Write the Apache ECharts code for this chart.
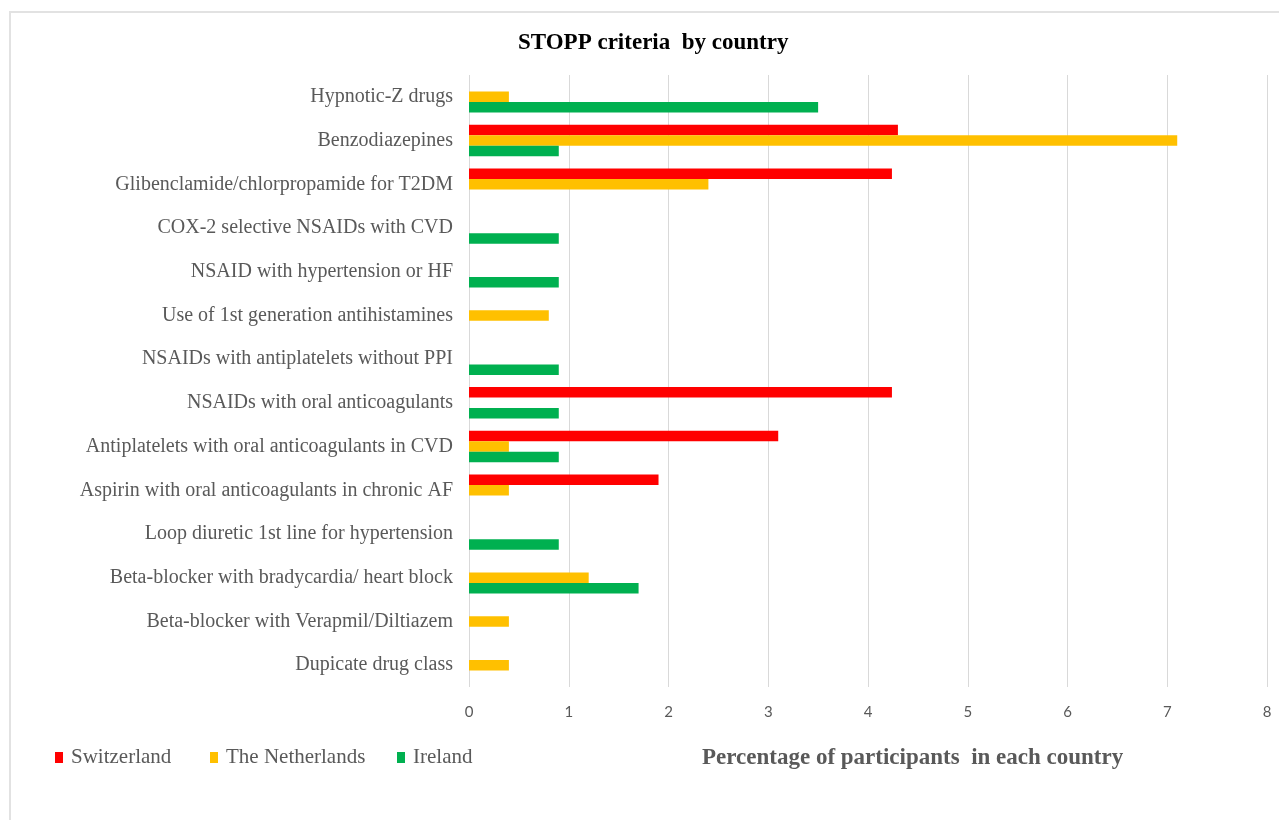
<!DOCTYPE html>
<html>
<head>
<meta charset="utf-8">
<title>STOPP criteria by country</title>
<script src="https://cdn.jsdelivr.net/npm/echarts@6/dist/echarts.min.js"></script>
<style>
  html, body { margin: 0; padding: 0; background: #fff; }
  #frame { position: absolute; left: 9px; top: 11px; width: 1280px; height: 820px;
           border-left: 2px solid #e2e2e2; border-top: 2px solid #e2e2e2; }
  #main { position: absolute; left: 0; top: 0; width: 1279px; height: 820px; }
</style>
</head>
<body>
<div id="frame"></div>
<div id="main"></div>
<script>
// 类目（从上到下）
const criteria = [
  'Hypnotic-Z drugs',
  'Benzodiazepines',
  'Glibenclamide/chlorpropamide for T2DM',
  'COX-2 selective NSAIDs with CVD',
  'NSAID with hypertension or HF',
  'Use of 1st generation antihistamines',
  'NSAIDs with antiplatelets without PPI',
  'NSAIDs with oral anticoagulants',
  'Antiplatelets with oral anticoagulants in CVD',
  'Aspirin with oral anticoagulants in chronic AF',
  'Loop diuretic 1st line for hypertension',
  'Beta-blocker with bradycardia/ heart block',
  'Beta-blocker with Verapmil/Diltiazem',
  'Dupicate drug class'
];
const countries = ['Switzerland', 'The Netherlands', 'Ireland'];
// 各国百分比
const switzerland = [0, 4.3, 4.24, 0, 0, 0, 0, 4.24, 3.1, 1.9, 0, 0, 0, 0];
const netherlands = [0.4, 7.1, 2.4, 0, 0, 0.8, 0, 0, 0.4, 0.4, 0, 1.2, 0.4, 0.4];
const ireland = [3.5, 0.9, 0, 0.9, 0.9, 0, 0.9, 0.9, 0.9, 0, 0.9, 1.7, 0, 0];
const xTicks = [0, 1, 2, 3, 4, 5, 6, 7, 8];

const colors = ['#ff0000', '#ffc000', '#00b050'];
const serif = '"Liberation Serif", "Times New Roman", serif';

function legendAt(name, left) {
  return {
    data: [name],
    left: left,
    top: 747,
    padding: 0,
    itemWidth: 8,
    itemHeight: 11,
    icon: 'rect',
    textStyle: { fontFamily: serif, fontSize: 21, color: '#595959', padding: [0, 0, 0, 3] }
  };
}

let myChart = echarts.init(document.getElementById('main'), null, { renderer: 'canvas' });
let option = {
  backgroundColor: 'transparent',
  animation: false,
  color: colors,
  title: [
    {
      text: 'STOPP criteria  by country',
      left: 518,
      top: 32,
      padding: 0,
      textStyle: { fontFamily: serif, fontSize: 23, fontWeight: 'bold', color: '#000' }
    },
    {
      text: 'Percentage of participants  in each country',
      left: 702,
      top: 747,
      padding: 0,
      textStyle: { fontFamily: serif, fontSize: 23, fontWeight: 'bold', color: '#595959' }
    }
  ],
  legend: [
    legendAt(countries[0], 55),
    legendAt(countries[1], 210),
    legendAt(countries[2], 397)
  ],
  grid: { left: 469, right: 12, top: 75, bottom: 133, containLabel: false },
  xAxis: {
    type: 'value',
    min: xTicks[0],
    max: xTicks[xTicks.length - 1],
    interval: 1,
    axisLine: { show: false },
    axisTick: { show: false },
    splitLine: { show: true, lineStyle: { color: '#d9d9d9', width: 1 } },
    axisLabel: { margin: 18, fontFamily: 'Lato, "Open Sans", sans-serif', fontSize: 15, color: '#595959' }
  },
  yAxis: {
    type: 'category',
    inverse: true,
    data: criteria,
    axisLine: { show: false },
    axisTick: { show: false },
    splitLine: { show: false },
    axisLabel: { margin: 16, fontFamily: serif, fontSize: 20, color: '#595959' }
  },
  series: [
    { name: countries[0], type: 'bar', data: switzerland, barWidth: 10.5, barGap: '0%' },
    { name: countries[1], type: 'bar', data: netherlands, barWidth: 10.5, barGap: '0%' },
    { name: countries[2], type: 'bar', data: ireland, barWidth: 10.5, barGap: '0%' }
  ]
};
myChart.setOption(option);
</script>
</body>
</html>
